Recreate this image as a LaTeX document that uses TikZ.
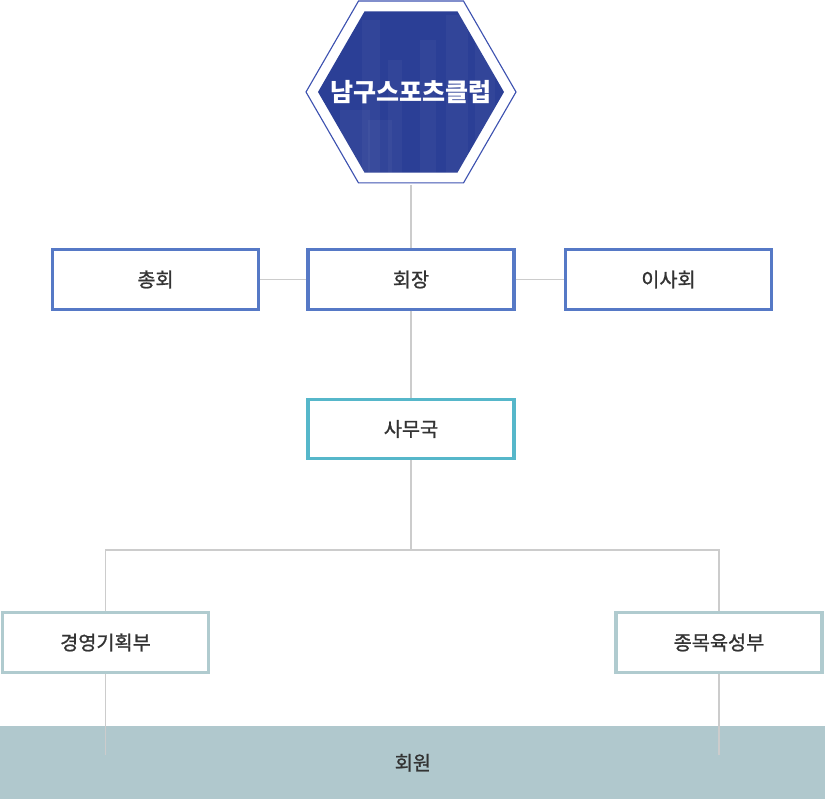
\documentclass[tikz,border=0pt]{standalone}
\usepackage{fontspec}
\setmainfont{Noto Sans CJK KR}
\newfontfamily\medfont[FakeBold=1.1]{Noto Sans CJK KR}
\usepackage{tikz}
\usetikzlibrary{calc}

\definecolor{hexblue}{HTML}{2B3F96}
\definecolor{hexline}{HTML}{3D52B0}
\definecolor{boxblue}{HTML}{5679C6}
\definecolor{boxteal}{HTML}{56B7CA}
\definecolor{boxpale}{HTML}{B0CBCF}
\definecolor{barcol}{HTML}{B0C8CD}
\definecolor{linkgray}{HTML}{CCCCCC}
\definecolor{txt}{HTML}{333333}

\tikzset{
    orgbox/.style={draw=#1,line width=2.2pt,fill=white,
        minimum width=5.15cm,minimum height=1.48cm,inner sep=0pt,
        text=txt,font=\medfont\fontsize{14}{16}\selectfont},
    link/.style={draw=linkgray,line width=0.75pt}
}

\begin{document}
\begin{tikzpicture}[x=0.025cm,y=-0.025cm]

\useasboundingbox (0,0) rectangle (825,799);

% hexagone du club
\coordinate (hexc) at (411,92);
\draw[hexline,line width=0.8pt] ($(hexc)+(0:105)$)
    \foreach \a in {60,120,...,300} { -- ($(hexc)+(\a:105)$) } -- cycle;
\begin{scope}
\clip ($(hexc)+(0:93)$)
    \foreach \a in {60,120,...,300} { -- ($(hexc)+(\a:93)$) } -- cycle;
\fill[hexblue] (300,0) rectangle (525,185);
% immeubles en filigrane
\foreach \x/\t/\w in {362/20/18,388/60/14,420/40/16,446/15/22,475/30/20,340/110/30,368/120/24}
    \fill[white,opacity=0.035] (\x,\t) rectangle ++(\w,185);
\end{scope}
\node[text=white,font=\fontsize{17.8}{20}\selectfont\bfseries] (club) at (hexc) {남구스포츠클럽};
\coordinate (hexbot) at (411,185);

% cases
\node[orgbox=boxblue] (chonghoe) at (155.5,279.5) {총회};
\node[orgbox=boxblue] (hoejang) at (411,279.5) {회장};
\node[orgbox=boxblue] (isahoe) at (668.5,279.5) {이사회};
\node[orgbox=boxteal] (samuguk) at (411,429) {사무국};
\node[orgbox=boxpale] (gyeongyeong) at (105.5,642.5) {경영기획부};
\node[orgbox=boxpale] (jongmok) at (719,642.5) {종목육성부};

% bandeau du bas
\node[fill=barcol,anchor=north west,minimum width=20.625cm,minimum height=1.825cm,
    inner sep=0pt,text=txt,font=\medfont\fontsize{14}{16}\selectfont] (hoewon) at (0,726) {회원};

% liaisons
\coordinate (fork) at (411,550);
\coordinate (gyeongend) at (105.5,755);
\coordinate (jongmokend) at (719,755);
\draw[link] (hexbot) -- (hoejang);
\draw[link] (chonghoe) -- (hoejang);
\draw[link] (hoejang) -- (isahoe);
\draw[link] (hoejang) -- (samuguk);
\draw[link] (samuguk) -- (fork);
\draw[link] (fork) -| (gyeongyeong);
\draw[link] (fork) -| (jongmok);
\draw[link] (gyeongyeong) -- (gyeongend);
\draw[link] (jongmok) -- (jongmokend);

\end{tikzpicture}
\end{document}
